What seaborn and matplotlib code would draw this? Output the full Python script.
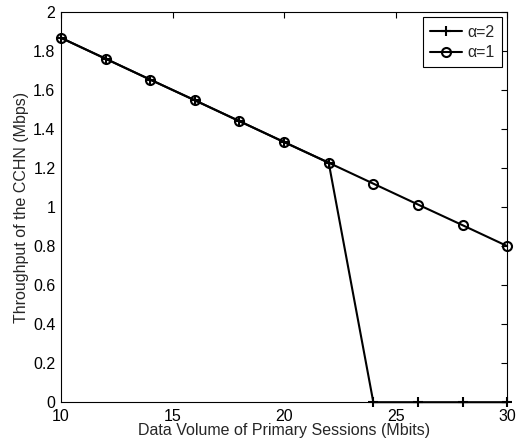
import matplotlib
matplotlib.use("Agg")
import matplotlib.pyplot as plt
import seaborn as sns

x_vals = [10, 12, 14, 16, 18, 20, 22, 24, 26, 28, 30]
alpha2 = [1.867, 1.760, 1.653, 1.547, 1.440, 1.333, 1.227, 0.0, 0.0, 0.0, 0.0]
alpha1 = [1.867, 1.760, 1.653, 1.547, 1.440, 1.333, 1.227, 1.120, 1.013, 0.907, 0.800]
series_names = ["\u03b1=2", "\u03b1=1"]
xticks = [10, 15, 20, 25, 30]
yticks = [0, 0.2, 0.4, 0.6, 0.8, 1, 1.2, 1.4, 1.6, 1.8, 2]
yticklabels = ["0", "0.2", "0.4", "0.6", "0.8", "1", "1.2", "1.4", "1.6", "1.8", "2"]

sns.set_theme(style="white")
plt.rcParams['font.family'] = ['Liberation Sans', 'DejaVu Sans']
FS = 11.5

fig = plt.figure(figsize=(5.17, 4.41), dpi=100)
ax = fig.add_axes([0.118, 0.088, 0.863, 0.885])

sns.lineplot(x=x_vals, y=alpha2, color="black", marker="+", markersize=7,
             markeredgewidth=1.5, markeredgecolor="black", linestyle="-",
             linewidth=1.5, label=series_names[0], ax=ax, clip_on=False, zorder=3)
sns.lineplot(x=x_vals, y=alpha1, color="black", marker="o", markersize=6.5,
             markeredgewidth=1.5, markerfacecolor="none", markeredgecolor="black",
             linestyle="-", linewidth=1.5, label=series_names[1], ax=ax,
             clip_on=False, zorder=3)

ax.set_xlim(10, 30)
ax.set_ylim(0, 2)
ax.set_xticks(xticks)
ax.set_xticklabels([str(t) for t in xticks])
ax.set_yticks(yticks)
ax.set_yticklabels(yticklabels)
ax.tick_params(direction="in", length=4, width=0.8, top=True, right=True,
               labelsize=FS, colors="black")
ax.tick_params(axis="x", pad=5)
ax.tick_params(axis="y", pad=4)
for s in ax.spines.values():
    s.set_color("black")
    s.set_linewidth(0.8)
ax.set_xlabel("Data Volume of Primary Sessions (Mbits)", fontsize=FS, labelpad=-1)
ax.set_ylabel("Throughput of the CCHN (Mbps)", fontsize=FS, labelpad=3)

leg = ax.legend(loc="upper right", frameon=True, fancybox=False, fontsize=FS,
                handlelength=2.0, borderaxespad=0.35, handletextpad=0.3,
                borderpad=0.45, labelspacing=0.35)
leg.get_frame().set_edgecolor("black")
leg.get_frame().set_linewidth(0.8)
leg.get_frame().set_alpha(1)

fig.savefig("out.png", dpi=100)
